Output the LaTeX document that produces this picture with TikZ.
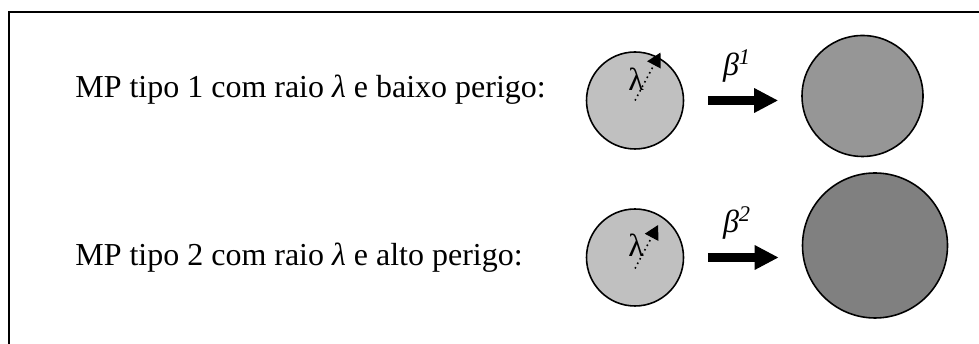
\documentclass[tikz,border=0pt]{standalone}
\usepackage{fontspec}
\setmainfont{Liberation Serif}
\usepackage{xcolor}
\usepackage{tikz}
\usetikzlibrary{arrows.meta,positioning,calc}
\definecolor{lightmp}{HTML}{C0C0C0}
\definecolor{midmp}{HTML}{969696}
\definecolor{darkmp}{HTML}{808080}
\tikzset{
  frameline/.style={draw=black, line width=1.1pt},
  particle/.style={draw=black, circle, line width=0.9pt, inner sep=0pt, minimum size=1.94cm},
  caption/.style={anchor=base west, inner sep=0pt},
  fatarrow/.style={-{Triangle[length=0.48cm, width=0.46cm]}, line width=0.18cm, draw=black},
  radiusarrow/.style={-{Triangle[length=0.28cm, width=0.3cm]}, line width=0.9pt, dotted, draw=black},
  greek/.style={inner sep=0pt, font=\fontsize{18.2}{22}\selectfont\itshape}
}

\begin{document}
\begin{tikzpicture}[font=\fontsize{18.2}{22}\selectfont]
  \useasboundingbox (0,0) rectangle (19.58,6.88);
  \draw[frameline] (0.18,0) -- (0.18,6.64) -- (19.58,6.64);

  \node[caption] (text1) at (1.5,4.92) {MP tipo 1 com raio \textit{λ} e baixo perigo:};
  \node[caption] (text2) at (1.5,1.56) {MP tipo 2 com raio \textit{λ} e alto perigo:};

  \node[particle, fill=lightmp] (mp1) at (12.7,4.87) {};
  \node[particle, fill=midmp, minimum size=2.42cm] (grow1) at (17.25,4.96) {};
  \node[particle, fill=lightmp] (mp2) at (12.7,1.73) {};
  \node[particle, fill=darkmp, minimum size=2.9cm] (grow2) at (17.5,1.97) {};

  \draw[radiusarrow, shorten >=-0.1cm] (mp1.center) -- (mp1.62);
  \draw[radiusarrow] ([yshift=-0.22cm]mp2.center) -- ([yshift=-0.22cm]mp2.62);
  \node[greek, font=\fontsize{18.2}{22}\selectfont] (lambda1) at (12.72,5.3) {λ};
  \node[greek, font=\fontsize{18.2}{22}\selectfont] (lambda2) at (12.72,1.98) {λ};

  \draw[fatarrow, shorten <=0.47cm, shorten >=0.46cm] (mp1.east) -- (mp1.east -| grow1.west);
  \draw[fatarrow, shorten <=0.47cm, shorten >=0.46cm] (mp2.east) -- (mp2.east -| grow2.west);
  \node[greek] (beta1) at (14.74,5.56) {β\textsuperscript{1}};
  \node[greek] (beta2) at (14.74,2.42) {β\textsuperscript{2}};
\end{tikzpicture}
\end{document}
